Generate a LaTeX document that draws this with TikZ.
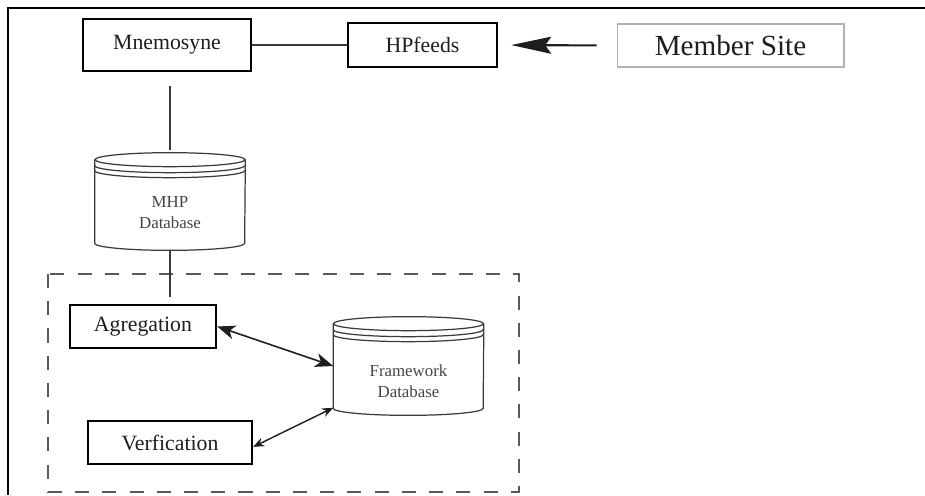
\documentclass[tikz,border=0pt]{standalone}
\usepackage{fontspec}
\setmainfont{Liberation Serif}
\usetikzlibrary{arrows.meta,positioning}

\definecolor{inkgray}{HTML}{1E1E1E}
\definecolor{linegray}{HTML}{3A3A3A}
\definecolor{dashgray}{HTML}{5A5A5A}
\definecolor{dbgray}{HTML}{444444}

% cylinder outline round a named node
\newcommand{\dbshape}[1]{%
\draw [dbline] ([yshift=-0.14cm]#1.north) ellipse [x radius=1.5cm, y radius=0.14cm];
\draw [dbline] ([yshift=-0.14cm]#1.north west) -- ([yshift=0.14cm]#1.south west)
  arc [start angle=180, end angle=360, x radius=1.5cm, y radius=0.14cm]
  -- ([yshift=-0.14cm]#1.north east);
\draw [dbline] ([yshift=-0.26cm]#1.north west) arc [start angle=180, end angle=360, x radius=1.5cm, y radius=0.14cm];
\draw [dbline] ([yshift=-0.36cm]#1.north west) arc [start angle=180, end angle=360, x radius=1.5cm, y radius=0.14cm];
}

\begin{document}
\begin{tikzpicture}[x=0.02cm,y=-0.02cm,
  procbox/.style={draw=black, line width=1.4pt, text=inkgray, inner sep=0pt,
    font=\fontsize{12.4}{14}\selectfont},
  sitebox/.style={draw=black!30, line width=0.6pt, text=inkgray, inner sep=0pt,
    font=\fontsize{16.6}{19}\selectfont},
  dbstore/.style={inner sep=0pt, minimum width=3cm},
  dbline/.style={draw=linegray, line width=0.7pt},
  dbtext/.style={align=center, text=dbgray, inner sep=0pt,
    font=\fontsize{9.6}{12.2}\selectfont},
  wire/.style={draw=linegray, line width=0.8pt},
  feed/.style={draw=inkgray, line width=1.2pt,
    -{Stealth[length=0.8cm, width=0.34cm, inset=0.12cm]}},
  link/.style={draw=inkgray, line width=0.9pt,
    {Stealth[length=0.36cm, width=0.28cm, inset=0.1cm]}-{Stealth[length=0.36cm, width=0.28cm, inset=0.1cm]}},
  slink/.style={draw=inkgray, line width=0.8pt,
    {Stealth[length=0.22cm, width=0.18cm]}-{Stealth[length=0.22cm, width=0.18cm]}},
  groupbox/.style={draw=dashgray, line width=1.1pt, dash pattern=on 8pt off 7.5pt}]
\useasboundingbox (0,0) rectangle (925,495);

% frame
\draw [line width=1.6pt] (925,8) -- (8,8) -- (8,495);

% top row
\node [procbox, minimum width=3.36cm, minimum height=1.04cm] (mne) at (167,45) {Mnemosyne};
\node [procbox, minimum width=2.98cm, minimum height=0.88cm] (hpf) at (422.5,45) {HPfeeds};
\node [sitebox, minimum width=4.54cm, minimum height=0.86cm] (msite) at (730.5,45.5) {Member Site};

% MHP database
\node [dbstore, minimum height=1.94cm] (mhp) at (170,201.5) {};
\dbshape{mhp}
\node [dbtext] (mhplbl) at ([yshift=-0.22cm]mhp.center) {MHP\\Database};

% framework group
\draw [groupbox] (48,274) rectangle (519,492);
\node [procbox, minimum width=2.92cm, minimum height=0.86cm] (agr) at (143,326.5) {Agregation};
\node [procbox, minimum width=3.28cm, minimum height=0.86cm] (verf) at (170,442.5) {Verfication};
\node [dbstore, minimum height=1.96cm] (fwdb) at (408.5,366) {};
\dbshape{fwdb}
\node [dbtext] (fwdblbl) at ([yshift=-0.3cm]fwdb.center) {Framework\\Database};

% connectors
\draw [wire] (mne.east) -- (hpf.west);
\draw [feed, shorten <=0.4cm, shorten >=0.26cm] (msite.west) -- (hpf.east);
\draw [wire, shorten <=0.06cm, shorten >=0.28cm] (mhp.north) -- (mhp.north |- mne.south);
\draw [wire, shorten >=0.14cm] (mhp.south) -- (mhp.south |- agr.north);
\draw [link] (agr.east) -- (fwdb.west);
\draw [slink] (verf.-3) -- (fwdb.209);
\end{tikzpicture}
\end{document}
